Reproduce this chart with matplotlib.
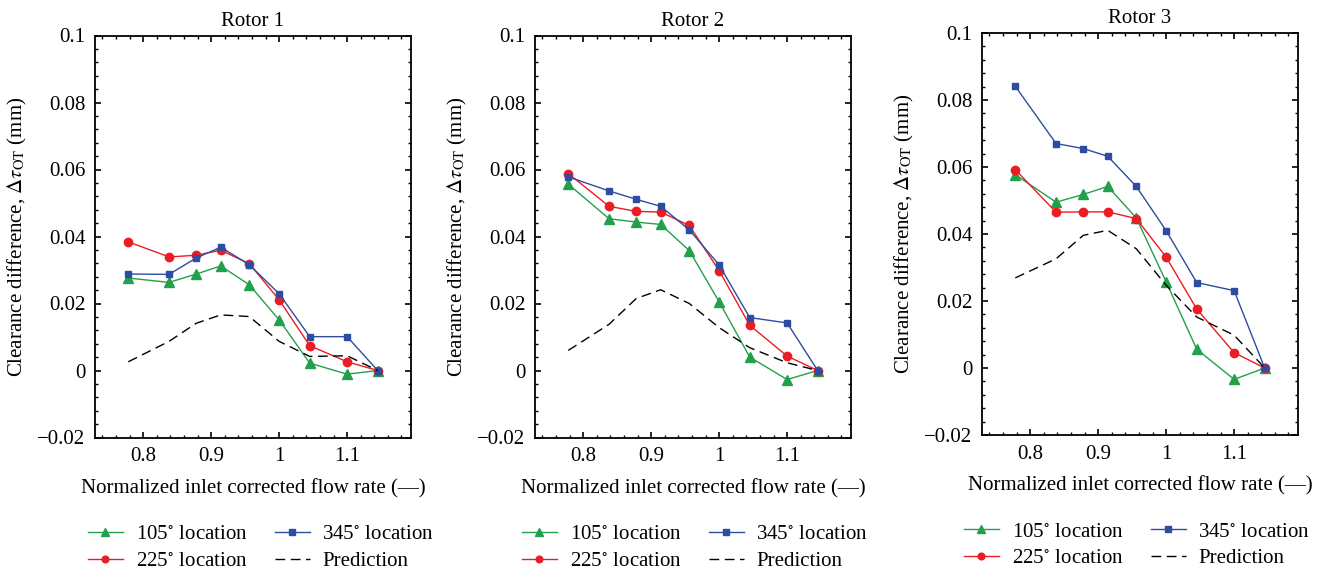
import numpy as np
import matplotlib
matplotlib.use("Agg")
import matplotlib.pyplot as plt
from matplotlib.ticker import MultipleLocator, FuncFormatter

plt.rcParams['font.family'] = ['Liberation Serif', 'DejaVu Serif']
plt.rcParams['mathtext.fontset'] = 'stix'

# normalized inlet corrected flow rate
flow = [0.778, 0.838, 0.878, 0.914, 0.956, 1.0, 1.045, 1.1, 1.145]

titles = ['Rotor 1', 'Rotor 2', 'Rotor 3']

# clearance difference (mm) per rotor
loc105 = [
    [0.0276, 0.0263, 0.0288, 0.0312, 0.0256, 0.0151, 0.0022, -0.0011, 0.0],
    [0.0556, 0.0453, 0.0443, 0.0436, 0.0358, 0.0205, 0.0040, -0.0027, 0.0],
    [0.0577, 0.0495, 0.0518, 0.0542, 0.0448, 0.0257, 0.0056, -0.0034, 0.0],
]
loc225 = [
    [0.0384, 0.0339, 0.0344, 0.0359, 0.0319, 0.0211, 0.0074, 0.0026, 0.0],
    [0.0588, 0.0490, 0.0475, 0.0473, 0.0433, 0.0298, 0.0135, 0.0043, 0.0],
    [0.0592, 0.0465, 0.0466, 0.0466, 0.0446, 0.0331, 0.0176, 0.0046, 0.0],
]
loc345 = [
    [0.0288, 0.0287, 0.0336, 0.0368, 0.0316, 0.0229, 0.0101, 0.0101, 0.0],
    [0.0578, 0.0536, 0.0511, 0.0490, 0.0420, 0.0315, 0.0158, 0.0142, 0.0],
    [0.0841, 0.0670, 0.0655, 0.0632, 0.0542, 0.0410, 0.0255, 0.0231, 0.0],
]
prediction = [
    [0.0026, 0.0087, 0.0141, 0.0166, 0.0161, 0.0087, 0.0042, 0.0044, 0.0],
    [0.0060, 0.0138, 0.0215, 0.0241, 0.0200, 0.0128, 0.0068, 0.0023, 0.0],
    [0.0269, 0.0326, 0.0396, 0.0411, 0.0356, 0.0247, 0.0152, 0.0098, 0.0],
]

green = '#22a04b'
red = '#ec1c24'
blue = '#2e4da0'

fig = plt.figure(figsize=(13.25, 5.74), dpi=100)
lefts = [95, 535, 982]
tops = [35.5, 35.5, 33]
leg_shift = [8, 2, -3]  # legend centre offset, px
W, H = 1325, 574

def fmt(v, pos):
    s = f'{v:g}'
    return s.replace('-', '\u2212')

for i in range(3):
    ax = fig.add_axes([lefts[i] / W, 1 - (tops[i] + 402) / H, 316 / W, 402 / H])
    l1, = ax.plot(flow, loc105[i], '-^', color=green, lw=1, ms=7)
    l2, = ax.plot(flow, loc225[i], '-o', color=red, lw=1, ms=6)
    l3, = ax.plot(flow, loc345[i], '-s', color=blue, lw=1, ms=5)
    l4, = ax.plot(flow, prediction[i], '--', color='black', lw=1, dashes=(7, 4))

    ax.set_xlim(0.729, 1.194)
    ax.set_ylim(-0.02, 0.1)
    ax.xaxis.set_major_locator(MultipleLocator(0.1))
    ax.xaxis.set_minor_locator(MultipleLocator(0.02))
    ax.yaxis.set_major_locator(MultipleLocator(0.02))
    ax.yaxis.set_minor_locator(MultipleLocator(0.004))
    ax.xaxis.set_major_formatter(FuncFormatter(fmt))
    ax.yaxis.set_major_formatter(FuncFormatter(fmt))
    ax.tick_params(which='both', direction='in', top=True, right=True, labelsize=15)
    ax.tick_params(which='major', length=4, width=1.2, pad=7)
    ax.tick_params(which='minor', length=2, width=1)
    for sp in ax.spines.values():
        sp.set_linewidth(1.3)

    ax.set_title(titles[i], fontsize=15, pad=7)
    ax.set_xlabel('Normalized inlet corrected flow rate (\u2014)', fontsize=15, labelpad=9)
    ax.set_ylabel(r'Clearance difference, $\Delta\tau_{\rm OT}$ (mm)', fontsize=15, labelpad=6)

    ax.legend([l1, l2, l3, l4],
              [r'105$^{\circ}$ location', r'225$^{\circ}$ location',
               r'345$^{\circ}$ location', 'Prediction'],
              loc='upper center', bbox_to_anchor=(0.5 + leg_shift[i] / 316, -0.18),
              ncol=2, frameon=False, fontsize=15, handlelength=1.7,
              handletextpad=0.6, columnspacing=1.3, labelspacing=0.35,
              markerscale=0.8, borderpad=0.2)

fig.savefig('out.png', dpi=100)
